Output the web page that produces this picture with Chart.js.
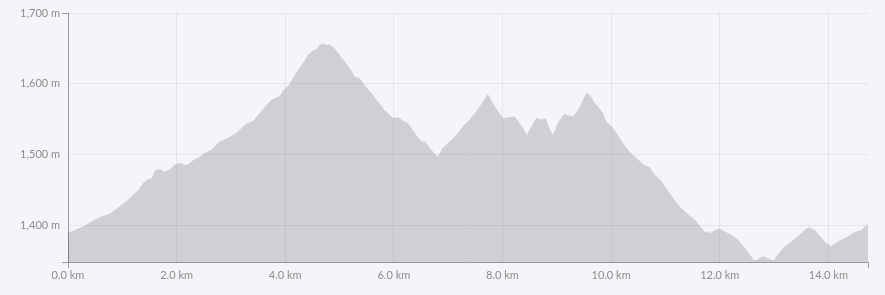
<!DOCTYPE html>
<html>
<head>
  <script src="https://cdn.jsdelivr.net/npm/chart.js@4"></script>
  <style>
    html, body { margin: 0; padding: 0; background: #f5f5f9; }
    #wrap { width: 885px; height: 295px; }
  </style>
</head>
<body>
<div id="wrap"><canvas id="profile"></canvas></div>
<script>
// distance along the route (km) and elevation (m)
const distanceKm = [
  0.00, 0.12, 0.28, 0.43, 0.55, 0.68, 0.77, 0.89, 1.01, 1.10,
  1.20, 1.29, 1.38, 1.47, 1.54, 1.60, 1.69, 1.78, 1.90, 1.96,
  2.06, 2.18, 2.30, 2.42, 2.52, 2.64, 2.79, 2.95, 3.10, 3.28,
  3.41, 3.53, 3.65, 3.75, 3.84, 3.90, 3.96, 4.05, 4.14, 4.24,
  4.33, 4.42, 4.51, 4.57, 4.63, 4.70, 4.76, 4.82, 4.91, 5.00,
  5.10, 5.19, 5.28, 5.37, 5.46, 5.59, 5.71, 5.83, 5.98, 6.08,
  6.17, 6.26, 6.35, 6.44, 6.51, 6.57, 6.66, 6.75, 6.81, 6.90,
  7.03, 7.15, 7.27, 7.40, 7.52, 7.64, 7.73, 7.82, 7.92, 8.01,
  8.13, 8.23, 8.29, 8.38, 8.45, 8.53, 8.62, 8.72, 8.79, 8.87,
  8.93, 9.02, 9.13, 9.24, 9.30, 9.39, 9.48, 9.55, 9.61, 9.70,
  9.76, 9.85, 9.91, 10.01, 10.10, 10.19, 10.28, 10.37, 10.50, 10.62,
  10.71, 10.80, 10.93, 11.05, 11.17, 11.29, 11.42, 11.54, 11.63, 11.72,
  11.82, 11.91, 12.00, 12.09, 12.22, 12.34, 12.46, 12.55, 12.63, 12.70,
  12.80, 12.89, 13.00, 13.07, 13.17, 13.32, 13.47, 13.56, 13.64, 13.75,
  13.84, 13.93, 14.04, 14.12, 14.23, 14.36, 14.48, 14.61, 14.67, 14.73
];
const elevationM = [
  1390, 1394, 1399, 1406, 1411, 1415, 1417, 1424, 1431, 1436,
  1444, 1450, 1460, 1466, 1467, 1478, 1480, 1476, 1481, 1486,
  1489, 1485, 1492, 1497, 1503, 1507, 1519, 1524, 1531, 1544,
  1548, 1559, 1570, 1578, 1581, 1583, 1591, 1597, 1608, 1620,
  1630, 1641, 1647, 1649, 1655, 1657, 1655, 1656, 1650, 1641,
  1631, 1622, 1610, 1608, 1598, 1587, 1575, 1563, 1552, 1553,
  1548, 1545, 1535, 1525, 1519, 1519, 1510, 1502, 1498, 1510,
  1519, 1528, 1540, 1550, 1562, 1575, 1586, 1573, 1561, 1552,
  1553, 1554, 1547, 1538, 1528, 1540, 1552, 1550, 1552, 1536,
  1528, 1545, 1558, 1555, 1554, 1563, 1577, 1588, 1584, 1573,
  1568, 1559, 1547, 1540, 1531, 1520, 1510, 1502, 1493, 1485,
  1483, 1472, 1463, 1449, 1436, 1425, 1416, 1409, 1400, 1392,
  1390, 1394, 1396, 1392, 1387, 1380, 1369, 1360, 1351, 1353,
  1357, 1354, 1351, 1360, 1369, 1378, 1387, 1394, 1398, 1394,
  1386, 1378, 1371, 1375, 1380, 1385, 1391, 1394, 1399, 1401
];
const xTickKm = [0, 2, 4, 6, 8, 10, 12, 14];
const yTickM = [1400, 1500, 1600, 1700];

const xMax = 14.73;
const yMin = 1349;
const yMax = 1700;

const axisColor = '#9a9a9a';
const labelColor = '#8c8c8c';

const points = distanceKm.map((d, i) => ({ x: d, y: elevationM[i] }));

new Chart(document.getElementById('profile'), {
  type: 'line',
  data: {
    datasets: [{
      data: points,
      fill: 'start',
      backgroundColor: 'rgba(20,15,20,0.16)',
      borderWidth: 0,
      pointRadius: 0,
      tension: 0
    }]
  },
  options: {
    responsive: true,
    maintainAspectRatio: false,
    animation: false,
    layout: { padding: { top: 13, right: 17, left: 0, bottom: 0 } },
    plugins: { legend: { display: false }, tooltip: { enabled: false } },
    scales: {
      x: {
        type: 'linear',
        min: 0,
        max: xMax,
        afterBuildTicks: s => { s.ticks = xTickKm.concat([xMax]).map(v => ({ value: v })); },
        afterFit: s => { s.height = 33; },
        border: { color: axisColor, width: 1 },
        grid: {
          color: c => (c.tick && c.tick.value === xMax) ? 'transparent' : 'rgba(0,0,0,0.06)',
          tickLength: 6,
          tickColor: c => (c.tick && (c.tick.value === 0 || c.tick.value === xMax)) ? axisColor : 'transparent'
        },
        ticks: {
          padding: 1,
          maxRotation: 0,
          autoSkip: false,
          color: labelColor,
          font: { family: 'Lato', size: 11 },
          callback: v => v === xMax ? '' : v.toFixed(1) + ' km'
        }
      },
      y: {
        min: yMin,
        max: yMax,
        afterBuildTicks: s => { s.ticks = [yMin].concat(yTickM).map(v => ({ value: v })); },
        afterFit: s => { s.width = 68; },
        border: { color: axisColor, width: 1 },
        grid: {
          color: 'rgba(0,0,0,0.06)',
          tickLength: 6,
          tickColor: c => (c.tick && (c.tick.value === yMin || c.tick.value === yMax)) ? axisColor : 'transparent'
        },
        ticks: {
          padding: 2,
          autoSkip: false,
          color: labelColor,
          font: { family: 'Lato', size: 11 },
          callback: v => v === yMin ? '' : v.toLocaleString('en-US') + ' m'
        }
      }
    }
  }
});
</script>
</body>
</html>
